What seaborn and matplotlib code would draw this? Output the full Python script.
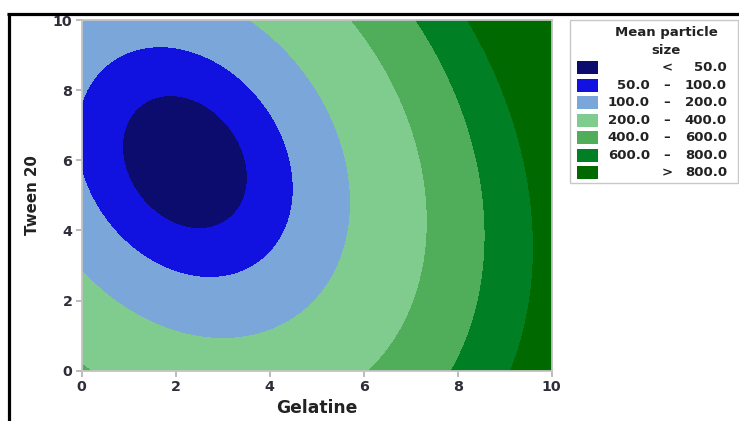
import numpy as np
import matplotlib
matplotlib.use("Agg")
import matplotlib.pyplot as plt
from matplotlib.lines import Line2D
from matplotlib.patches import Rectangle
import seaborn as sns

# ---- data: fitted response-surface model (Mean particle size) ----
terms = ["Constant", "Gelatine", "Tween 20", "Gelatine*Gelatine",
         "Tween 20*Tween 20", "Gelatine*Tween 20"]
coefs = [418.3, -94.1, -97.4, 14.9, 7.3, 4.8]
gelatine_range = [0, 10]
tween_range = [0, 10]
levels = [50, 100, 200, 400, 600, 800]
level_colors = ["#0c0c6e", "#1212e0", "#7ba6d9", "#80cc8f",
                "#50ae5a", "#007f25", "#006a00"]
legend_left = ["", "50.0", "100.0", "200.0", "400.0", "600.0", ""]
legend_mid = ["<", "\u2013", "\u2013", "\u2013", "\u2013", "\u2013", ">"]
legend_right = ["50.0", "100.0", "200.0", "400.0", "600.0", "800.0", "800.0"]
xticks = [0, 2, 4, 6, 8, 10]
yticks = [0, 2, 4, 6, 8, 10]

sns.set_style("white")
plt.rcParams["font.family"] = ["DejaVu Sans"]

W, H = 739, 421
fig = plt.figure(figsize=(W / 100, H / 100), dpi=100)


def fx(x):
    return x / W


def fy(y):
    return 1 - y / H


ax = fig.add_axes([fx(81.5), fy(370.7), fx(551.7) - fx(81.5), fy(20) - fy(370.7)])

g = np.linspace(gelatine_range[0], gelatine_range[1], 500)
t = np.linspace(tween_range[0], tween_range[1], 500)
G, T = np.meshgrid(g, t)
Z = (coefs[0] + coefs[1] * G + coefs[2] * T + coefs[3] * G ** 2
     + coefs[4] * T ** 2 + coefs[5] * G * T)

bounds = [min(Z.min(), 0)] + levels + [Z.max() + 1]
ax.contourf(G, T, Z, levels=bounds, colors=level_colors)

ax.set_xlim(gelatine_range)
ax.set_ylim(tween_range)
ax.set_xticks(xticks)
ax.set_yticks(yticks)
for s in ax.spines.values():
    s.set_color("#c4c4c4")
    s.set_linewidth(1.3)
ax.tick_params(axis="both", direction="out", length=4, width=1.2,
               color="#b0b0b0", labelsize=10.3, labelcolor="#2e2e3a", pad=2.5,
               bottom=True, left=True)
for lab in ax.get_xticklabels() + ax.get_yticklabels():
    lab.set_fontweight("bold")
ax.set_xlabel("Gelatine", fontsize=12.3, fontweight="bold", color="#222222", labelpad=4)
ax.set_ylabel("Tween 20", fontsize=10.8, fontweight="bold", color="#222222", labelpad=9)

# ---- legend (manual, Minitab style) ----
fig.add_artist(Rectangle((fx(570), fy(183)), fx(738) - fx(570), fy(20) - fy(183),
                         transform=fig.transFigure, facecolor="white",
                         edgecolor="#c8c8c8", linewidth=1.0))
tkw = dict(transform=fig.transFigure, fontsize=9.5, fontweight="bold", color="#222222")
fig.text(fx(666), fy(32.5), "Mean particle", ha="center", va="center", **tkw)
fig.text(fx(666), fy(50.5), "size", ha="center", va="center", **tkw)
for i in range(len(level_colors)):
    yc = 67.6 + i * 17.5
    fig.add_artist(Rectangle((fx(577.3), fy(yc + 6.4)), fx(598.3) - fx(577.3), 12.7 / H,
                             transform=fig.transFigure, facecolor=level_colors[i],
                             edgecolor="none"))
    if legend_left[i]:
        fig.text(fx(650), fy(yc), legend_left[i], ha="right", va="center", **tkw)
    fig.text(fx(666.7), fy(yc), legend_mid[i], ha="center", va="center", **tkw)
    fig.text(fx(727), fy(yc), legend_right[i], ha="right", va="center", **tkw)

# ---- screenshot frame lines ----
fig.add_artist(Line2D([fx(7), fx(739)], [fy(13.5), fy(13.5)], transform=fig.transFigure,
                      color="black", linewidth=2.3, solid_capstyle="butt"))
fig.add_artist(Line2D([fx(8.5), fx(8.5)], [fy(12.5), fy(421)], transform=fig.transFigure,
                      color="black", linewidth=2.3, solid_capstyle="butt"))

fig.savefig("out.png", dpi=100)
